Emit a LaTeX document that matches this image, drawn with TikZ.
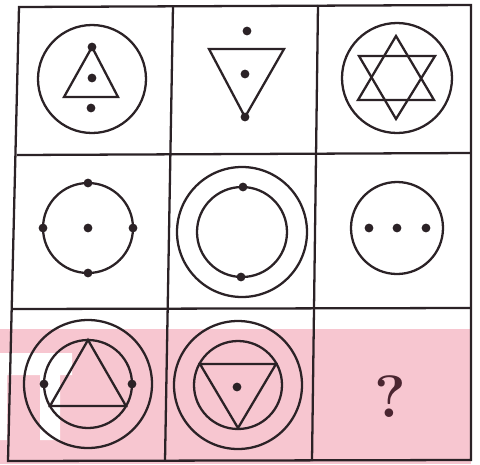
\documentclass[tikz,border=0pt]{standalone}
\usepackage{xcolor}
\usepackage{tikz}
\definecolor{Band}{HTML}{F7C6D0}
\definecolor{Ink}{HTML}{2B2226}
\definecolor{QInk}{HTML}{4A2530}

\begin{document}
\begin{tikzpicture}[x=0.02cm, y=-0.02cm, line width=1.3pt, draw=Ink,
    fig/.style={draw=Ink, line width=1.3pt},
    blob/.style={fill=Ink}]
  \useasboundingbox (0,0) rectangle (480,464);
  % pink band and watermark
  \fill[Band] (0,329) rectangle (471,464);
  \fill[white] (0,353) rectangle (72,375) (0,353) rectangle (7,440) (40,353) rectangle (60,440);
  % grid
  \draw[fig] (19,7) -- (471,5) -- (471,460) -- (8,461) -- cycle;
  \draw[fig] (173,6) -- (165,461);
  \draw[fig] (318,5) -- (312,461);
  \draw[fig] (17,155) -- (471,153);
  \draw[fig] (13,309) -- (471,308);
  % row 1
  \draw[fig] (92,79) circle (54);
  \draw[fig] (92,47) -- (118,97) -- (64,97) -- cycle;
  \foreach \p in {(92,47),(92,78),(91,108)} \fill[blob] \p circle (4.4);
  \draw[fig] (209,49) -- (284,49) -- (245,117) -- cycle;
  \foreach \p in {(247,31),(245,74),(245,117)} \fill[blob] \p circle (4.4);
  \draw[fig] (397,78) circle (55);
  \draw[fig] (396,36) -- (434,100) -- (358,100) -- cycle;
  \draw[fig] (359,56) -- (435,56) -- (396,119) -- cycle;
  % row 2
  \draw[fig] (88,228) circle (45);
  \foreach \p in {(88,183),(43,228),(133,228),(88,273),(88,228)} \fill[blob] \p circle (4.4);
  \draw[fig] (242,232) circle (65) (242,232) circle (45);
  \foreach \p in {(243,187),(241,277)} \fill[blob] \p circle (4.4);
  \draw[fig] (397,228) circle (46);
  \foreach \p in {(369,228),(397,228),(426,228)} \fill[blob] \p circle (4.4);
  % row 3
  \draw[fig] (88,384) circle (64) (88,384) circle (44);
  \draw[fig] (88,340) -- (126,406) -- (50,406) -- cycle;
  \foreach \p in {(44,384),(132,384)} \fill[blob] \p circle (4.4);
  \draw[fig] (238,385) circle (64) (238,385) circle (44);
  \draw[fig] (200,364) -- (276,364) -- (238,428) -- cycle;
  \fill[blob] (237,387) circle (4.4);
  \node[text=QInk, font=\fontsize{34}{36}\selectfont\bfseries] (q) at (390,397) {?};
\end{tikzpicture}
\end{document}
